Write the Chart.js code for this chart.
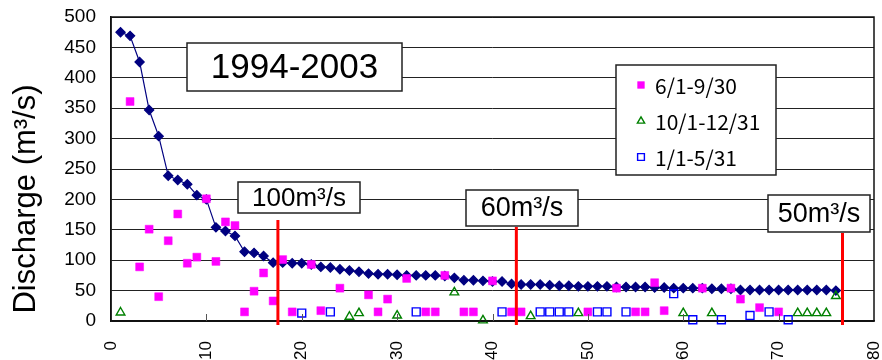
<!DOCTYPE html>
<html>
<head>
<meta charset="utf-8">
<script src="https://cdn.jsdelivr.net/npm/chart.js@4.4.0/dist/chart.umd.min.js"></script>
<style>
html, body { margin: 0; padding: 0; background: #fff; }
</style>
</head>
<body>
<canvas id="flowChart" width="882" height="360"></canvas>
<script>
// rank of the day (sorted by main discharge)
var rank = [1,2,3,4,5,6,7,8,9,10,11,12,13,14,15,16,17,18,19,20,
            21,22,23,24,25,26,27,28,29,30,31,32,33,34,35,36,37,38,39,40,
            41,42,43,44,45,46,47,48,49,50,51,52,53,54,55,56,57,58,59,60,
            61,62,63,64,65,66,67,68,69,70,71,72,73,74,75,76];
var discharge = [475,469,426,347,304,239,232,225,207,200,
                 154,148,140,114,112,107,96,96,95,95,
                 93,89,88,85,83,81,78,77,77,76,
                 75,75,75,75,74,71,67,67,66,65,
                 65,61,60,60,60,59,58,58,57,57,
                 57,57,56,56,56,56,55,55,54,54,
                 54,54,53,53,53,51,51,51,51,51,
                 51,51,51,51,51,50];

// 6/1-9/30
var summerX = [2,3,4,5,6,7,8,9,10,11,12,13,14,15,16,17,18,19,21,22,24,27,28,29,31,33,34,35,37,38,40,42,43,50,53,55,56,57,58,62,65,66,68,70];
var summerY = [361,89,151,40,132,176,95,105,201,98,163,157,15,49,79,33,101,15,93,17,54,43,15,36,70,15,15,75,15,15,66,15,15,15,54,15,15,63,17,54,54,36,22,15];
// 10/1-12/31
var autumnX = [1,25,26,30,36,39,44,49,60,63,72,73,74,75,76];
var autumnY = [14,7,13,9,47,1,8,13,13,13,13,13,13,13,41];
// 1/1-5/31
var winterX = [20,23,32,41,45,46,47,48,51,52,54,59,61,64,67,69,71];
var winterY = [13,15,15,15,15,15,15,15,15,15,15,45,2,2,9,15,2];

var thresholdX = [17.5, 42.5, 76.7];
var thresholdLabels = ['100m³/s', '60m³/s', '50m³/s'];
var seriesLabels = ['6/1-9/30', '10/1-12/31', '1/1-5/31'];
var periodLabel = '1994-2003';
var yTitle = 'Discharge (m³/s)';

function pairs(xs, ys) {
  var out = [];
  for (var i = 0; i < xs.length; i++) out.push({x: xs[i], y: ys[i]});
  return out;
}

var FONT = '"Liberation Sans", Arial, sans-serif';

function box(ctx, x, y, w, h, text, size) {
  ctx.save();
  ctx.fillStyle = '#fff';
  ctx.fillRect(x, y, w, h);
  ctx.strokeStyle = '#222';
  ctx.lineWidth = 1.5;
  ctx.strokeRect(x, y, w, h);
  ctx.fillStyle = '#000';
  ctx.font = size + 'px ' + FONT;
  ctx.textAlign = 'center';
  ctx.textBaseline = 'middle';
  ctx.fillText(text, x + w / 2, y + h / 2 + 1);
  ctx.restore();
}

var decor = {
  id: 'decor',
  afterDatasetsDraw: function(chart) {
    var ctx = chart.ctx, a = chart.chartArea, xs = chart.scales.x;

    // frame round the plot
    ctx.save();
    ctx.strokeStyle = '#111';
    ctx.lineWidth = 1.5;
    ctx.strokeRect(a.left, a.top, a.right - a.left, a.bottom - a.top);

    // inward x ticks
    ctx.strokeStyle = '#555';
    ctx.lineWidth = 1;
    for (var v = 10; v < 80; v += 10) {
      var px = Math.round(xs.getPixelForValue(v)) + 0.5;
      ctx.beginPath();
      ctx.moveTo(px, a.bottom);
      ctx.lineTo(px, a.bottom - 7);
      ctx.stroke();
    }
    ctx.restore();

    // threshold lines with their labels
    var boxes = [
      {x: 238, y: 182, w: 122, h: 31, size: 26, top: 220},
      {x: 466, y: 190, w: 112, h: 36, size: 27, top: 227},
      {x: 768, y: 195, w: 102, h: 37, size: 27, top: 233}
    ];
    for (var i = 0; i < thresholdX.length; i++) {
      var lx = xs.getPixelForValue(thresholdX[i]);
      ctx.save();
      ctx.strokeStyle = '#ff0000';
      ctx.lineWidth = 3;
      ctx.beginPath();
      ctx.moveTo(lx, boxes[i].top);
      ctx.lineTo(lx, a.bottom + 4);
      ctx.stroke();
      ctx.restore();
      box(ctx, boxes[i].x, boxes[i].y, boxes[i].w, boxes[i].h, thresholdLabels[i], boxes[i].size);
    }

    box(ctx, 187, 43, 215, 48, periodLabel, 35);

    // legend
    ctx.save();
    ctx.fillStyle = '#fff';
    ctx.fillRect(616, 65, 160, 110);
    ctx.strokeStyle = '#222';
    ctx.lineWidth = 1.5;
    ctx.strokeRect(616, 65, 160, 110);
    var rows = [85, 121, 157];
    for (var j = 0; j < 3; j++) {
      var ds = chart.data.datasets[j];
      ctx.fillStyle = ds.backgroundColor;
      ctx.strokeStyle = ds.borderColor;
      ctx.lineWidth = ds.borderWidth;
      Chart.helpers.drawPoint(ctx, {pointStyle: ds.pointStyle, radius: ds.pointRadius - 0.8, rotation: 0, borderWidth: ds.borderWidth}, 641, rows[j]);
      ctx.fillStyle = '#000';
      ctx.font = '21px "Noto Sans CJK JP", sans-serif';
      ctx.textAlign = 'left';
      ctx.textBaseline = 'middle';
      ctx.fillText(seriesLabels[j], 655, rows[j] + 1);
    }
    ctx.restore();

    // y axis title
    ctx.save();
    ctx.translate(26, 199);
    ctx.rotate(-Math.PI / 2);
    ctx.fillStyle = '#000';
    ctx.font = '31px ' + FONT;
    ctx.textAlign = 'center';
    ctx.textBaseline = 'middle';
    ctx.fillText(yTitle, 0, 0);
    ctx.restore();
  }
};

new Chart(document.getElementById('flowChart'), {
  type: 'scatter',
  data: {
    datasets: [
      {
        label: seriesLabels[0],
        data: pairs(summerX, summerY),
        pointStyle: 'rect',
        pointRadius: 5.6,
        backgroundColor: '#ff00ff',
        borderColor: '#ff00ff',
        borderWidth: 0.5,
        clip: false
      },
      {
        label: seriesLabels[1],
        data: pairs(autumnX, autumnY),
        pointStyle: 'triangle',
        pointRadius: 5,
        backgroundColor: 'rgba(0,0,0,0)',
        borderColor: '#008000',
        borderWidth: 1.4,
        clip: false
      },
      {
        label: seriesLabels[2],
        data: pairs(winterX, winterY),
        pointStyle: 'rect',
        pointRadius: 5.6,
        backgroundColor: 'rgba(0,0,0,0)',
        borderColor: '#0000ff',
        borderWidth: 1.4,
        clip: false
      },
      {
        label: 'Discharge',
        data: pairs(rank, discharge),
        showLine: true,
        pointStyle: 'rectRot',
        pointRadius: 4.6,
        backgroundColor: '#000080',
        borderColor: '#000080',
        borderWidth: 1.2,
        clip: false
      }
    ]
  },
  options: {
    responsive: false,
    animation: false,
    layout: { padding: { top: 17, right: 8, left: 0, bottom: 0 } },
    plugins: { legend: { display: false }, tooltip: { enabled: false } },
    scales: {
      x: {
        type: 'linear',
        min: 0, max: 80,
        grid: { display: false },
        border: { display: true, color: '#111', width: 1.5 },
        ticks: {
          stepSize: 10,
          minRotation: 90, maxRotation: 90,
          padding: 12,
          color: '#000',
          font: { family: FONT, size: 17 }
        },
        afterFit: function(s) { s.height = 39; s.paddingLeft = 0; s.paddingRight = 0; }
      },
      y: {
        min: 0, max: 500,
        grid: { color: '#222', lineWidth: 1, drawTicks: false },
        border: { display: true, color: '#111', width: 1.5 },
        ticks: {
          stepSize: 50,
          padding: 15,
          color: '#000',
          font: { family: FONT, size: 19 }
        },
        afterFit: function(s) { s.width = 111; s.paddingTop = 0; s.paddingBottom = 0; }
      }
    }
  },
  plugins: [decor]
});
</script>
</body>
</html>
